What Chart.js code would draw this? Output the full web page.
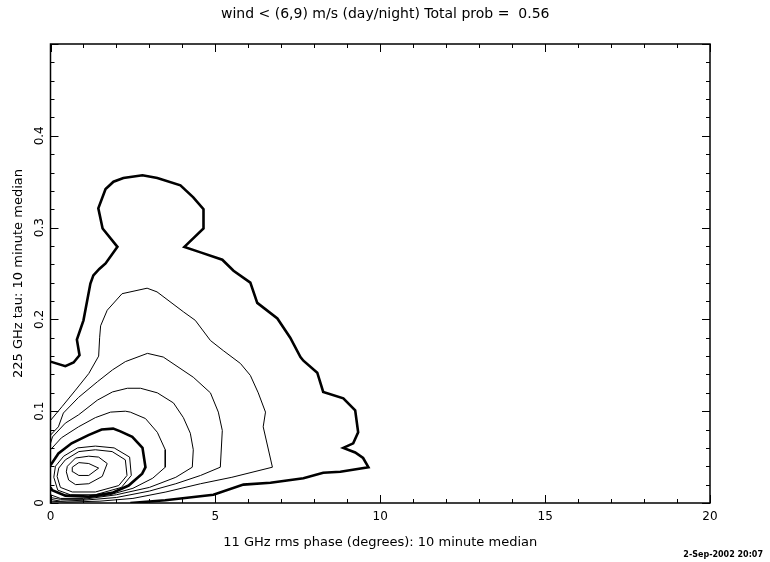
<!DOCTYPE html>
<html>
<head>
<meta charset="utf-8">
<script src="https://cdn.jsdelivr.net/npm/chart.js@4/dist/chart.umd.min.js"></script>
<style>
  html, body { margin: 0; padding: 0; background: #fff; }
  canvas { display: block; }
</style>
</head>
<body>
<canvas id="myChart" width="770" height="562"></canvas>
<script>
// contour lines, [phase (deg), tau]
const contour1 = [[0,0.154],[0.45,0.149],[0.70,0.153],[0.88,0.161],[0.80,0.178],[1.0,0.199],[1.21,0.239],[1.30,0.248],[1.48,0.255],[1.67,0.261],[2.03,0.279],[1.58,0.299],[1.45,0.321],[1.67,0.342],[1.91,0.350],[2.21,0.354],[2.79,0.357],[3.24,0.354],[3.94,0.346],[4.33,0.333],[4.64,0.320],[4.64,0.299],[4.06,0.279],[4.55,0.273],[5.21,0.265],[5.55,0.253],[6.06,0.240],[6.27,0.218],[6.88,0.201],[7.27,0.180],[7.58,0.159],[7.67,0.155],[8.09,0.142],[8.27,0.121],[8.88,0.114],[9.24,0.101],[9.33,0.077],[9.18,0.065],[8.88,0.060],[9.24,0.055],[9.48,0.049],[9.64,0.039],[8.79,0.034],[8.27,0.033],[7.67,0.027],[6.67,0.022],[5.85,0.020],[4.94,0.009],[3.48,0.003],[2.42,0.0]];
const contour2 = [[0,0.090],[0.35,0.105],[0.76,0.123],[1.16,0.141],[1.46,0.160],[1.49,0.180],[1.52,0.193],[1.72,0.210],[2.17,0.228],[2.93,0.234],[3.23,0.230],[4.04,0.208],[4.39,0.199],[4.85,0.177],[5.24,0.166],[5.76,0.152],[6.06,0.139],[6.30,0.120],[6.52,0.099],[6.45,0.083],[6.73,0.039],[5.5,0.028],[4.55,0.021],[3.5,0.012],[2.5,0.005],[1.5,0.002],[0.5,0.001],[0,0.002]];
const contour3 = [[0,0.074],[0.24,0.083],[0.39,0.098],[0.85,0.115],[1.42,0.132],[1.88,0.145],[2.27,0.154],[2.94,0.163],[3.42,0.159],[4.33,0.137],[4.85,0.120],[5.09,0.099],[5.21,0.079],[5.15,0.039],[4.55,0.030],[3.8,0.021],[3.0,0.013],[2.0,0.006],[1.0,0.003],[0.3,0.002],[0,0.004]];
const contour4 = [[0,0.065],[0.06,0.072],[0.45,0.087],[0.85,0.096],[1.42,0.112],[1.88,0.121],[2.33,0.125],[2.73,0.125],[3.24,0.120],[3.73,0.109],[4.03,0.093],[4.24,0.076],[4.33,0.058],[4.30,0.039],[3.8,0.028],[3.0,0.017],[2.0,0.009],[1.0,0.004],[0.3,0.004],[0,0.006]];
const contour5 = [[0,0.058],[0.33,0.071],[0.85,0.083],[1.36,0.093],[1.82,0.099],[2.27,0.100],[2.42,0.099],[2.88,0.092],[3.24,0.077],[3.48,0.058],[3.48,0.039],[3.1,0.027],[2.5,0.016],[1.8,0.009],[1.0,0.005],[0.3,0.005],[0,0.009]];
const contour6 = [[0,0.041],[0.24,0.054],[0.64,0.065],[1.15,0.074],[1.55,0.080],[1.9,0.081],[2.12,0.078],[2.48,0.072],[2.79,0.060],[2.88,0.039],[2.78,0.032],[2.37,0.019],[1.87,0.011],[1.16,0.007],[0.45,0.008],[0.05,0.014],[0,0.017]];
const contour7 = [[0.10,0.028],[0.15,0.040],[0.40,0.051],[0.82,0.060],[1.36,0.062],[1.93,0.060],[2.40,0.050],[2.45,0.030],[2.15,0.017],[1.36,0.009],[0.60,0.009],[0.22,0.014],[0.10,0.028]];
const contour8 = [[0.20,0.029],[0.25,0.038],[0.45,0.047],[0.86,0.056],[1.36,0.058],[1.87,0.056],[2.27,0.047],[2.32,0.030],[2.07,0.019],[1.36,0.012],[0.66,0.012],[0.30,0.017],[0.20,0.029]];
const contour9 = [[0.48,0.034],[0.51,0.040],[0.76,0.049],[1.16,0.051],[1.46,0.050],[1.72,0.043],[1.57,0.029],[1.16,0.021],[0.76,0.020],[0.55,0.025],[0.48,0.034]];
const contour10 = [[0.66,0.039],[0.86,0.044],[1.16,0.043],[1.46,0.038],[1.16,0.030],[0.86,0.030],[0.68,0.034],[0.66,0.039]];

const contours = [contour1, contour2, contour3, contour4, contour5, contour6, contour7, contour8, contour9, contour10];
const thick = [true, false, false, false, false, true, false, false, false, false];

const xTicks = [0, 5, 10, 15, 20];
const yTicks = [0, 0.1, 0.2, 0.3, 0.4];

const titleText = 'wind < (6,9) m/s (day/night) Total prob =  0.56';
const xTitle = '11 GHz rms phase (degrees): 10 minute median';
const yTitle = '225 GHz tau: 10 minute median';
const stamp = '2-Sep-2002 20:07';

Chart.defaults.font.family = '"DejaVu Sans", sans-serif';
Chart.defaults.font.size = 12;
Chart.defaults.color = '#000';

const datasets = contours.map((c, i) => ({
  data: c.map(p => ({x: p[0], y: p[1]})),
  showLine: true,
  borderColor: '#000',
  borderWidth: thick[i] ? 2.6 : 1,
  pointRadius: 0,
  fill: false,
  tension: 0
}));

// frame with inward ticks on all four sides, plus the date stamp
const frame = {
  id: 'frame',
  afterDraw(chart) {
    const ctx = chart.ctx;
    const a = chart.chartArea;
    const sx = chart.scales.x, sy = chart.scales.y;
    ctx.save();
    ctx.strokeStyle = '#000';
    ctx.lineWidth = 1.5;
    ctx.strokeRect(a.left, a.top, a.right - a.left, a.bottom - a.top);
    ctx.lineWidth = 1;
    ctx.beginPath();
    for (let v = 0; v <= 20; v++) {
      const px = Math.round(sx.getPixelForValue(v)) + 0.5;
      const len = v % 5 === 0 ? 8 : 4;
      ctx.moveTo(px, a.bottom); ctx.lineTo(px, a.bottom - len);
      ctx.moveTo(px, a.top); ctx.lineTo(px, a.top + len);
    }
    for (let k = 0; k <= 25; k++) {
      const py = Math.round(sy.getPixelForValue(k * 0.02)) + 0.5;
      const len = k % 5 === 0 ? 8 : 4;
      ctx.moveTo(a.left, py); ctx.lineTo(a.left + len, py);
      ctx.moveTo(a.right, py); ctx.lineTo(a.right - len, py);
    }
    ctx.stroke();
    ctx.font = 'bold 8px "DejaVu Sans", sans-serif';
    ctx.fillStyle = '#000';
    ctx.textAlign = 'right';
    ctx.textBaseline = 'middle';
    ctx.fillText(stamp, 763, 555);
    ctx.restore();
  }
};

const config = {
  type: 'scatter',
  data: {datasets: datasets},
  options: {
    responsive: false,
    animation: false,
    devicePixelRatio: 1,
    layout: {padding: {left: 10.5, right: 10, top: 6, bottom: 8}},
    plugins: {
      legend: {display: false},
      tooltip: {enabled: false},
      title: {
        display: true,
        text: titleText,
        font: {size: 14, weight: 'normal'},
        padding: {top: 0, bottom: 21.2}
      }
    },
    scales: {
      x: {
        type: 'linear',
        min: 0,
        max: 20,
        grid: {display: false, drawTicks: false},
        border: {display: false},
        afterBuildTicks: s => { s.ticks = xTicks.map(v => ({value: v})); },
        ticks: {padding: 7, maxRotation: 0},
        title: {display: true, text: xTitle, font: {size: 13}, padding: {top: 3, bottom: 4}}
      },
      y: {
        type: 'linear',
        min: 0,
        max: 0.5,
        grid: {display: false, drawTicks: false},
        border: {display: false},
        afterBuildTicks: s => { s.ticks = yTicks.map(v => ({value: v})); },
        ticks: {
          padding: 1,
          minRotation: 90,
          maxRotation: 90,
          crossAlign: 'center',
          callback: v => String(Math.round(v * 10) / 10)
        },
        title: {display: true, text: yTitle, font: {size: 13}, padding: {top: 0, bottom: 8}}
      },
      // empty right-hand axis, only keeps the right margin so the title centres on the page
      y2: {
        type: 'linear',
        position: 'right',
        min: 0,
        max: 0.5,
        grid: {display: false, drawTicks: false},
        border: {display: false},
        ticks: {display: false},
        afterFit: s => { s.width = 50; }
      }
    }
  },
  plugins: [frame]
};

const myChart = new Chart(document.getElementById('myChart'), config);
</script>
</body>
</html>
